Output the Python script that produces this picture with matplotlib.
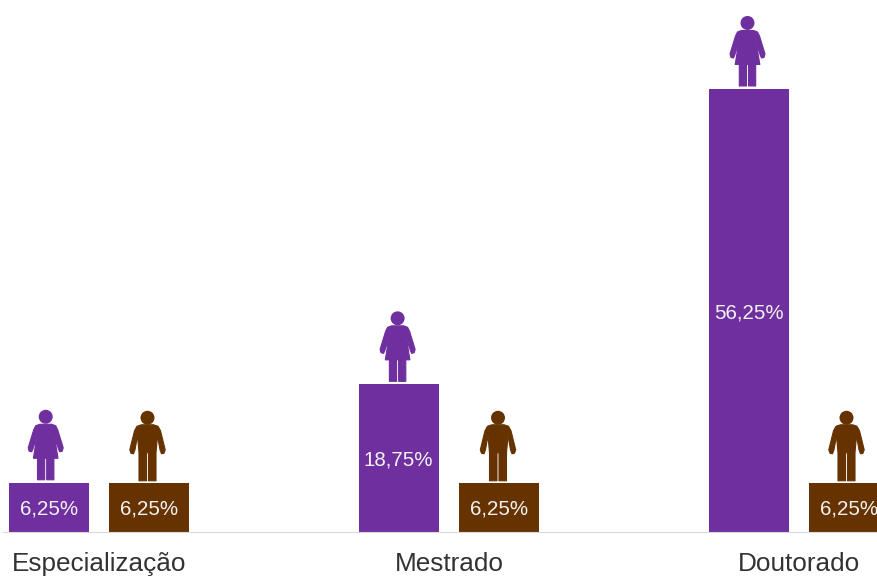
import matplotlib
matplotlib.use('Agg')
import matplotlib.pyplot as plt
from matplotlib.patches import Circle, Polygon
from matplotlib.transforms import Affine2D

categorias = ['Especialização', 'Mestrado', 'Doutorado']
mulheres = [6.25, 18.75, 56.25]
homens = [6.25, 6.25, 6.25]

ROXO = '#6f2f9f'
MARROM = '#663300'

# contornos dos bonecos, em pixels a partir do topo da barra
corpo_mulher = [(-6, 58.5), (6, 58.5), (10, 57), (12, 53), (17.5, 35), (16.5, 31.5), (14, 31), (12.7, 34),
                (8.7, 47), (12.3, 24.5), (8.2, 24.5), (8.2, 3), (1, 3), (1, 24.5), (-1, 24.5), (-1, 3),
                (-8.2, 3), (-8.2, 24.5), (-12.3, 24.5), (-8.7, 47), (-12.7, 34), (-14, 31), (-16.5, 31.5),
                (-17.5, 35), (-12, 53), (-10, 57)]
corpo_homem = [(-6, 58), (6, 58), (10.5, 56.5), (13, 52), (17.7, 33), (16.5, 29.5), (14, 29), (12.5, 33),
               (10, 47), (8.5, 30), (8.5, 2), (1, 2), (1, 30), (-1, 30), (-1, 2), (-8.5, 2), (-8.5, 30),
               (-10, 47), (-12.5, 33), (-14, 29), (-16.5, 29.5), (-17.7, 33), (-13, 52), (-10.5, 56.5)]

# ajuste horizontal de cada boneco em relação à barra
ajuste_mulher = [-3.3, -1.4, -1.5]
ajuste_homem = [-1.5, -1, -2.5]


def boneco(ax, x, y, dx, contorno, cor, cabeca):
    # desenha o boneco em cima do ponto (x, y) dos dados
    px, py = ax.transData.transform((x, y))
    t = Affine2D().translate(px + dx, py)
    ax.add_patch(Polygon(contorno, closed=True, fc=cor, ec=cor, lw=0.8, joinstyle='round',
                         transform=t, clip_on=False))
    ax.add_patch(Circle((0, cabeca), 7, fc=cor, ec='none', transform=t, clip_on=False))


fig = plt.figure(figsize=(8.77, 5.76), dpi=100)
plt.rcParams['font.family'] = ['Liberation Sans', 'DejaVu Sans']
ax = fig.add_axes([3 / 877, 44 / 576, 874 / 877, 532 / 576])

ax.set_xlim((3 - 99) / 350, (877 - 99) / 350)
ax.set_ylim(0, 532 / 7.876)

pos = list(range(len(categorias)))
larg = 80 / 350
desl = 50 / 350

ax.bar([p - desl for p in pos], mulheres, larg, color=ROXO)
ax.bar([p + desl for p in pos], homens, larg, color=MARROM)

# rótulos no meio das barras (a última barra passa da borda, por isso não uso bar_label)
for lado, valores in [(-desl, mulheres), (desl, homens)]:
    for p, v in zip(pos, valores):
        ax.annotate(f'{v:.2f}%'.replace('.', ','), (p + lado, v / 2), xytext=(-0.3, -1.5),
                    textcoords='offset points', ha='center', va='center',
                    color='#f2f2f2', fontsize=14.8)

for p, v, dx in zip(pos, mulheres, ajuste_mulher):
    boneco(ax, p - desl, v, dx, corpo_mulher, ROXO, 66)
for p, v, dx in zip(pos, homens, ajuste_homem):
    boneco(ax, p + desl, v, dx, corpo_homem, MARROM, 65)

ax.set_xticks(pos)
ax.set_xticklabels(categorias, fontsize=18.8, color='#333333')
ax.tick_params(axis='x', length=0, pad=14.5)
ax.set_yticks([])

ax.spines['top'].set_visible(False)
ax.spines['right'].set_visible(False)
ax.spines['left'].set_visible(False)
ax.spines['bottom'].set_color('#d9d9d9')

plt.savefig('out.png', dpi=100)
